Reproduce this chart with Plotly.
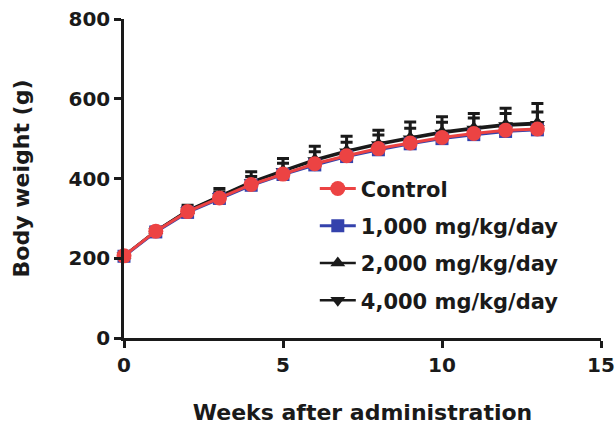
import plotly.graph_objects as go

weeks = list(range(14))

control = [206, 268, 317, 351, 385, 411, 437, 457, 475, 489, 503, 513, 521, 524]
dose1000 = [205, 266, 315, 350, 383, 410, 434, 455, 472, 487, 500, 510, 518, 522]
dose2000 = [207, 269, 320, 356, 392, 420, 448, 470, 488, 503, 517, 527, 536, 540]
sd2000 = [5, 8, 13, 19, 25, 30, 33, 36, 33, 39, 38, 36, 40, 48]
dose4000 = [206, 268, 319, 355, 390, 418, 445, 467, 485, 500, 514, 524, 533, 536]
sd4000 = [4, 7, 9, 12, 15, 20, 22, 24, 24, 26, 27, 28, 30, 31]
zeros = [0] * 14

names = ["Control", "1,000 mg/kg/day", "2,000 mg/kg/day", "4,000 mg/kg/day"]

RED = "#EC4343"
BLUE = "#3442AC"
BLACK = "#1a1a1a"
FONT = "DejaVu Sans"

fig = go.Figure()

fig.add_trace(go.Scatter(
    x=weeks, y=dose4000, name=names[3], mode="lines+markers",
    line=dict(color=BLACK, width=2.5),
    marker=dict(symbol="triangle-down", size=13, color=BLACK),
    error_y=dict(type="data", array=sd4000, arrayminus=zeros, symmetric=False,
                 color=BLACK, thickness=3, width=6),
    legendrank=4, legendgroup="d", cliponaxis=False))
fig.add_trace(go.Scatter(
    x=weeks, y=dose2000, name=names[2], mode="lines+markers",
    line=dict(color=BLACK, width=2.5),
    marker=dict(symbol="triangle-up", size=13, color=BLACK),
    error_y=dict(type="data", array=sd2000, arrayminus=zeros, symmetric=False,
                 color=BLACK, thickness=3, width=6),
    legendrank=3, legendgroup="c", cliponaxis=False))
fig.add_trace(go.Scatter(
    x=weeks, y=dose1000, name=names[1], mode="lines+markers",
    line=dict(color=BLUE, width=3),
    marker=dict(symbol="square", size=13, color=BLUE),
    legendrank=2, legendgroup="b", cliponaxis=False))
fig.add_trace(go.Scatter(
    x=weeks, y=control, name=names[0], mode="lines+markers",
    line=dict(color=RED, width=3),
    marker=dict(symbol="circle", size=15, color=RED),
    legendrank=1, legendgroup="a", cliponaxis=False))

axis_common = dict(
    showline=True, linecolor=BLACK, linewidth=2.5,
    ticks="outside", ticklen=7, tickwidth=2.5, tickcolor=BLACK,
    showgrid=False, zeroline=False, automargin=False,
    tickfont=dict(family=FONT, size=20, color=BLACK, weight="bold"),
)

fig.update_xaxes(range=[0, 15], tickvals=[0, 5, 10, 15],
                 title=dict(text="<b>Weeks after administration</b>",
                            font=dict(family=FONT, size=22, color=BLACK),
                            standoff=31),
                 **axis_common)
fig.update_yaxes(range=[0, 800], tickvals=[0, 200, 400, 600, 800],
                 title=dict(text="<b>Body weight (g)</b>",
                            font=dict(family=FONT, size=22, color=BLACK),
                            standoff=33),
                 **axis_common)

fig.update_layout(
    width=615, height=425,
    margin=dict(l=124, r=14, t=19, b=87),
    plot_bgcolor="white", paper_bgcolor="white",
    legend=dict(x=0.40, y=0.532, xanchor="left", yanchor="top",
                font=dict(family=FONT, size=21, color=BLACK, weight="bold"),
                bgcolor="rgba(0,0,0,0)", tracegroupgap=7, itemwidth=36,
                traceorder="grouped"),
)

fig.write_html("out.html")
